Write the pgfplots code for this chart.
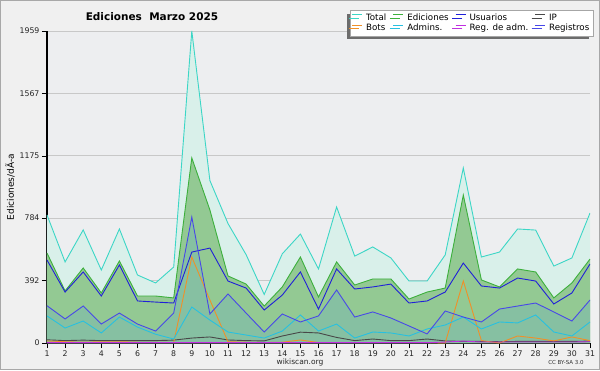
\documentclass[border=0pt]{standalone}
\usepackage{fontspec}
\setmainfont{DejaVu Sans}
\usepackage{pgfplots}
\usepackage{pgfplotstable}
\pgfplotsset{compat=1.18}
\usetikzlibrary{shadows}
\definecolor{bgc}{HTML}{F0F0F0}
\definecolor{bordc}{HTML}{A8A8A8}
\definecolor{plotbg}{HTML}{EDEEF0}
\definecolor{gridc}{HTML}{C8C8C8}
\definecolor{cTotalL}{HTML}{3CD6C6}
\definecolor{cTotalF}{HTML}{D9F0EA}
\definecolor{cEdL}{HTML}{3CB03C}
\definecolor{cEdF}{HTML}{93C993}
\definecolor{cUsu}{HTML}{2020D8}
\definecolor{cReg}{HTML}{4848E8}
\definecolor{cRegF}{HTML}{86C0A2}
\definecolor{cAdm}{HTML}{28C0E0}
\definecolor{cIP}{HTML}{484848}
\definecolor{cBots}{HTML}{F09028}
\definecolor{cRA}{HTML}{C030E0}
\pgfplotstableread{
d total edic usu ip bots adm regadm reg
1 804 565 521 20 13 170 2 234
2 509 327 320 15 8 94 2 151
3 710 471 446 18 5 138 2 232
4 458 314 295 15 8 63 2 119
5 716 515 490 15 8 163 2 188
6 427 295 264 15 5 100 2 119
7 377 295 257 15 5 55 2 75
8 477 283 251 18 3 25 2 188
9 1959 1162 571 31 540 226 2 791
10 1020 835 596 38 270 144 2 182
11 750 421 389 19 8 69 2 308
12 555 370 345 15 5 50 2 188
13 305 232 207 13 3 31 2 69
14 560 352 301 44 5 75 2 182
15 684 540 446 68 19 176 2 132
16 465 289 213 63 3 75 2 170
17 854 509 465 35 3 119 2 333
18 546 364 339 15 3 31 2 163
19 603 402 352 25 3 69 2 195
20 534 402 370 15 3 63 2 157
21 389 276 251 15 3 44 2 107
22 389 320 264 25 3 88 2 57
23 553 345 320 13 0 113 6 201
24 1099 929 502 10 389 163 12 163
25 540 396 358 10 15 88 6 132
26 571 352 345 8 0 132 6 213
27 716 465 408 10 44 126 6 232
28 709 446 389 10 31 176 6 251
29 483 283 245 10 13 69 6 195
30 534 377 314 10 38 44 6 138
31 816 527 496 12 15 132 8 270
}\data
\begin{document}
\begin{tikzpicture}[x=1pt,y=1pt]
\fill[bgc] (0,0) rectangle (600,370);
\draw[bordc] (0.5,0.5) rectangle (599.5,369.5);
\begin{axis}[
  at={(47pt,27pt)}, anchor=south west,
  scale only axis, width=543pt, height=312pt,
  xmin=1, xmax=31, ymin=0, ymax=1959,
  axis lines*=left,
  axis line style={black, line width=1.2pt},
  axis background/.style={fill=plotbg},
  xtick={1,...,31},
  ytick={0,392,784,1175,1567,1959},
  minor y tick num=3,
  ymajorgrids, grid style={color=gridc, line width=0.8pt},
  tick align=outside,
  major tick length=5pt, minor tick length=3pt,
  tick style={black, line width=0.6pt},
  scaled y ticks=false,
  /pgf/number format/1000 sep={},
  /pgf/number format/assume math mode=true,
  ticklabel style={font=\fontsize{7.8}{8}\selectfont, text=black!85},
  xticklabel style={yshift=1pt},
  yticklabel style={xshift=1pt},
  ylabel={Ediciones/dÃ-a},
  ylabel style={at={(axis description cs:-0.068,0.5)}, anchor=center, font=\fontsize{9}{10}\selectfont},
  legend columns=4,
  legend cell align=left,
  legend image code/.code={\draw[#1] (0pt,3pt) -- (10pt,3pt);},
  legend style={at={(axis description cs:1,1)}, anchor=north east, xshift=3pt, yshift=21pt,
    draw=gray!70, fill=white, font=\fontsize{8.7}{9}\selectfont, inner sep=1.5pt,
    row sep=-1.5pt,
    /tikz/every odd column/.append style={column sep=1.5pt},
    /tikz/every even column/.append style={column sep=4.5pt},
    drop shadow={shadow xshift=-3.5pt, shadow yshift=-3.5pt, fill=gray!85!black, opacity=1}},
]
\addplot[draw=none, fill=cTotalF, forget plot] table[x=d,y=total]{\data} \closedcycle;
\addplot[draw=none, fill=cEdF, forget plot] table[x=d,y=edic]{\data} \closedcycle;
\addplot[draw=none, fill=cRegF, forget plot] table[x=d,y=reg]{\data} \closedcycle;
\addplot[cTotalL, line width=0.9pt] table[x=d,y=total]{\data};
\addlegendentry{Total}
\addplot[cEdL, line width=0.9pt] table[x=d,y=edic]{\data};
\addlegendentry{Ediciones}
\addplot[cUsu, line width=0.9pt] table[x=d,y=usu]{\data};
\addlegendentry{Usuarios}
\addplot[cIP, line width=0.9pt] table[x=d,y=ip]{\data};
\addlegendentry{IP}
\addplot[cBots, line width=0.9pt] table[x=d,y=bots]{\data};
\addlegendentry{Bots}
\addplot[cAdm, line width=0.9pt] table[x=d,y=adm]{\data};
\addlegendentry{Admins.}
\addplot[cRA, line width=0.9pt] table[x=d,y=regadm]{\data};
\addlegendentry{Reg. de adm.}
\addplot[cReg, line width=0.9pt] table[x=d,y=reg]{\data};
\addlegendentry{Registros}
\end{axis}
\node[font=\bfseries\fontsize{10.5}{11}\selectfont] at (152,353) {Ediciones\ \ Marzo 2025};
\node[font=\fontsize{7.5}{8}\selectfont, text=black!85] at (300,8) {wikiscan.org};
\node[font=\fontsize{5.5}{6}\selectfont, text=black!80] at (566,8) {CC BY-SA 3.0};
\end{tikzpicture}
\end{document}
